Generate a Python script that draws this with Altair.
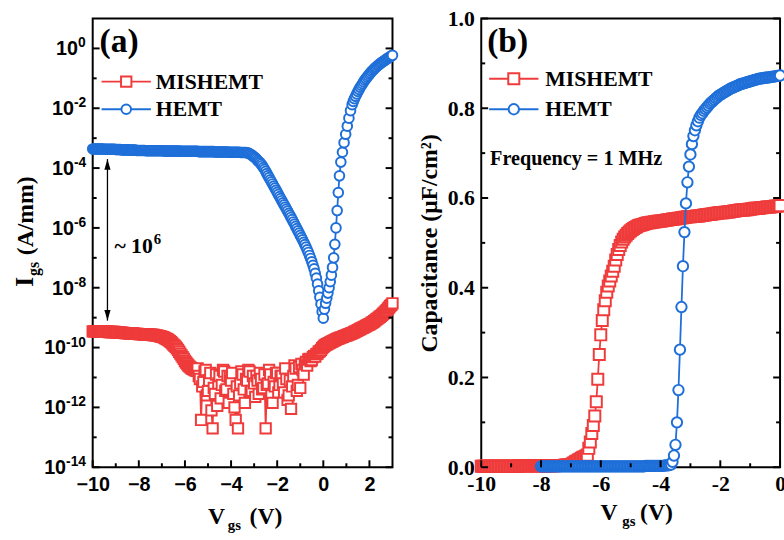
import altair as alt
import pandas as pd

# ---------------- Panel (a): gate leakage current (log10 of A/mm) ----------------
vgs_sweep_a = [
    -10.0, -9.95, -9.9, -9.85, -9.8, -9.75, -9.7, -9.65, -9.6, -9.55,
    -9.5, -9.45, -9.4, -9.35, -9.3, -9.25, -9.2, -9.15, -9.1, -9.05,
    -9.0, -8.95, -8.9, -8.85, -8.8, -8.75, -8.7, -8.65, -8.6, -8.55,
    -8.5, -8.45, -8.4, -8.35, -8.3, -8.25, -8.2, -8.15, -8.1, -8.05,
    -8.0, -7.95, -7.9, -7.85, -7.8, -7.75, -7.7, -7.65, -7.6, -7.55,
    -7.5, -7.45, -7.4, -7.35, -7.3, -7.25, -7.2, -7.15, -7.1, -7.05,
    -7.0, -6.95, -6.9, -6.85, -6.8, -6.75, -6.7, -6.65, -6.6, -6.55,
    -6.5, -6.45, -6.4, -6.35, -6.3, -6.25, -6.2, -6.15, -6.1, -6.05,
    -6.0, -5.95, -5.9, -5.85, -5.8, -5.75, -5.7, -5.65, -5.6, -5.55,
    -5.5, -5.45, -5.4, -5.35, -5.3, -5.25, -5.2, -5.15, -5.1, -5.05,
    -5.0, -4.95, -4.9, -4.85, -4.8, -4.75, -4.7, -4.65, -4.6, -4.55,
    -4.5, -4.45, -4.4, -4.35, -4.3, -4.25, -4.2, -4.15, -4.1, -4.05,
    -4.0, -3.95, -3.9, -3.85, -3.8, -3.75, -3.7, -3.65, -3.6, -3.55,
    -3.5, -3.45, -3.4, -3.35, -3.3, -3.25, -3.2, -3.15, -3.1, -3.05,
    -3.0, -2.95, -2.9, -2.85, -2.8, -2.75, -2.7, -2.65, -2.6, -2.55,
    -2.5, -2.45, -2.4, -2.35, -2.3, -2.25, -2.2, -2.15, -2.1, -2.05,
    -2.0, -1.95, -1.9, -1.85, -1.8, -1.75, -1.7, -1.65, -1.6, -1.55,
    -1.5, -1.45, -1.4, -1.35, -1.3, -1.25, -1.2, -1.15, -1.1, -1.05,
    -1.0, -0.95, -0.9, -0.85, -0.8, -0.75, -0.7, -0.65, -0.6, -0.55,
    -0.5, -0.45, -0.4, -0.35, -0.3, -0.25, -0.2, -0.15, -0.1, -0.05,
    0.0, 0.05, 0.1, 0.15, 0.2, 0.25, 0.3, 0.35, 0.4, 0.45,
    0.5, 0.55, 0.6, 0.65, 0.7, 0.75, 0.8, 0.85, 0.9, 0.95,
    1.0, 1.05, 1.1, 1.15, 1.2, 1.25, 1.3, 1.35, 1.4, 1.45,
    1.5, 1.55, 1.6, 1.65, 1.7, 1.75, 1.8, 1.85, 1.9, 1.95,
    2.0, 2.05, 2.1, 2.15, 2.2, 2.25, 2.3, 2.35, 2.4, 2.45,
    2.5, 2.55, 2.6, 2.65, 2.7, 2.75, 2.8, 2.85, 2.9, 2.95,
    3.0,
]
log_igs_mishemt_a = [
    -9.46, -9.46, -9.46, -9.46, -9.46, -9.46, -9.47, -9.47, -9.47, -9.47,
    -9.47, -9.47, -9.47, -9.47, -9.48, -9.48, -9.48, -9.48, -9.48, -9.48,
    -9.49, -9.49, -9.49, -9.50, -9.50, -9.50, -9.51, -9.51, -9.52, -9.52,
    -9.52, -9.52, -9.53, -9.53, -9.53, -9.53, -9.54, -9.54, -9.54, -9.54,
    -9.55, -9.55, -9.55, -9.55, -9.56, -9.56, -9.56, -9.56, -9.57, -9.57,
    -9.57, -9.57, -9.58, -9.58, -9.59, -9.59, -9.60, -9.61, -9.62, -9.63,
    -9.64, -9.65, -9.67, -9.69, -9.71, -9.73, -9.76, -9.79, -9.82, -9.86,
    -9.90, -9.94, -9.98, -10.03, -10.08, -10.14, -10.20, -10.26, -10.32, -10.38,
    -10.45, -10.50, -10.55, -10.60, -10.64, -10.67, -10.70, -10.72, -10.74, -10.76,
    -10.78, -10.70, -10.95, -11.05, -12.42, -11.30, -11.15, -10.80, -10.75, -11.60,
    -11.45, -11.10, -10.85, -12.10, -12.70, -11.35, -11.55, -10.90, -11.95, -11.20,
    -10.95, -11.70, -11.25, -10.75, -10.80, -11.45, -11.40, -10.95, -11.85, -11.00,
    -11.10, -10.85, -11.55, -12.00, -12.42, -11.30, -12.70, -11.60, -11.20, -10.80,
    -10.90, -11.40, -11.85, -11.05, -11.10, -10.75, -10.80, -11.50, -11.45, -10.95,
    -11.20, -11.65, -10.95, -11.10, -11.55, -10.85, -11.05, -11.40, -11.35, -10.90,
    -12.70, -11.25, -11.20, -10.75, -10.90, -11.60, -11.85, -11.15, -11.30, -10.85,
    -10.85, -11.50, -11.25, -10.95, -10.95, -11.20, -11.50, -10.70, -11.05, -11.75,
    -11.60, -11.10, -12.05, -11.30, -10.95, -10.60, -10.70, -11.45, -11.25, -10.65,
    -11.35, -10.55, -10.75, -10.90, -10.55, -10.48, -10.60, -10.40, -10.38, -10.45,
    -10.42, -10.32, -10.28, -10.30, -10.22, -10.20, -10.14, -10.12, -10.08, -10.02,
    -9.98, -9.94, -9.91, -9.89, -9.87, -9.85, -9.83, -9.81, -9.79, -9.77,
    -9.75, -9.73, -9.71, -9.70, -9.68, -9.67, -9.65, -9.64, -9.62, -9.61,
    -9.59, -9.58, -9.56, -9.55, -9.53, -9.52, -9.50, -9.48, -9.46, -9.44,
    -9.42, -9.40, -9.38, -9.36, -9.34, -9.32, -9.30, -9.28, -9.26, -9.24,
    -9.22, -9.20, -9.17, -9.15, -9.12, -9.09, -9.06, -9.03, -9.00, -8.97,
    -8.94, -8.91, -8.87, -8.83, -8.79, -8.75, -8.70, -8.66, -8.61, -8.57,
    -8.52,
]
vgs_hemt_rise_a = [
    0.00, 0.05, 0.10, 0.15, 0.20, 0.25, 0.30, 0.35, 0.40, 0.45, 0.50, 0.55, 0.60, 0.65, 0.70,
    0.76, 0.83, 0.90, 0.97, 1.04, 1.11, 1.18, 1.25,
    1.30, 1.35, 1.40, 1.45, 1.50, 1.55, 1.60, 1.65, 1.70, 1.75,
    1.80, 1.85, 1.90, 1.95, 2.00, 2.05, 2.10, 2.15, 2.20, 2.25,
    2.30, 2.35, 2.40, 2.45, 2.50, 2.55, 2.60, 2.65, 2.70, 2.75,
    2.80, 2.85, 2.90, 2.95, 3.00,
]
vgs_hemt_a = vgs_sweep_a[:200] + vgs_hemt_rise_a
log_igs_hemt_a = [
    -3.36, -3.36, -3.36, -3.36, -3.36, -3.36, -3.36, -3.36, -3.36, -3.36,
    -3.37, -3.37, -3.37, -3.37, -3.37, -3.37, -3.37, -3.37, -3.37, -3.37,
    -3.38, -3.38, -3.38, -3.38, -3.38, -3.39, -3.39, -3.39, -3.39, -3.39,
    -3.39, -3.39, -3.40, -3.40, -3.40, -3.40, -3.40, -3.40, -3.41, -3.41,
    -3.41, -3.41, -3.41, -3.41, -3.41, -3.41, -3.42, -3.42, -3.42, -3.42,
    -3.42, -3.42, -3.42, -3.42, -3.42, -3.42, -3.42, -3.42, -3.42, -3.42,
    -3.42, -3.42, -3.43, -3.43, -3.43, -3.43, -3.43, -3.43, -3.43, -3.43,
    -3.43, -3.43, -3.43, -3.43, -3.43, -3.43, -3.44, -3.44, -3.44, -3.44,
    -3.44, -3.44, -3.44, -3.44, -3.44, -3.44, -3.44, -3.44, -3.44, -3.44,
    -3.44, -3.44, -3.45, -3.45, -3.45, -3.45, -3.45, -3.45, -3.45, -3.45,
    -3.45, -3.45, -3.45, -3.45, -3.45, -3.45, -3.46, -3.46, -3.46, -3.46,
    -3.46, -3.46, -3.46, -3.46, -3.46, -3.46, -3.46, -3.46, -3.47, -3.47,
    -3.47, -3.47, -3.47, -3.47, -3.47, -3.47, -3.47, -3.47, -3.48, -3.48,
    -3.48, -3.48, -3.48, -3.48, -3.49, -3.50, -3.52, -3.54, -3.57, -3.60,
    -3.63, -3.66, -3.70, -3.74, -3.78, -3.82, -3.87, -3.92, -3.98, -4.04,
    -4.11, -4.18, -4.25, -4.32, -4.39, -4.46, -4.53, -4.60, -4.67, -4.74,
    -4.81, -4.88, -4.95, -5.02, -5.09, -5.16, -5.23, -5.30, -5.37, -5.44,
    -5.51, -5.58, -5.65, -5.72, -5.80, -5.87, -5.95, -6.02, -6.10, -6.17,
    -6.25, -6.32, -6.40, -6.48, -6.56, -6.64, -6.73, -6.82, -6.92, -7.02,
    -7.13, -7.25, -7.37, -7.52, -7.68, -7.88, -8.10, -8.32, -8.55, -8.80,
    -9.02, -8.72, -8.52, -8.35, -8.18, -8.00, -7.80, -7.58, -7.32, -7.00,
    -6.55, -6.00, -5.42, -4.82, -4.26,
    -3.80, -3.47, -3.15, -2.87, -2.60, -2.33, -2.08, -1.88,
    -1.77, -1.68, -1.60, -1.52, -1.44, -1.37, -1.30, -1.24, -1.18, -1.12,
    -1.06, -1.01, -0.96, -0.91, -0.86, -0.82, -0.77, -0.73, -0.69, -0.65,
    -0.62, -0.58, -0.55, -0.52, -0.49, -0.46, -0.43, -0.41, -0.38, -0.35,
    -0.33, -0.30, -0.28, -0.25, -0.23,
]

# ---------------- Panel (b): C-V at 1 MHz (uF/cm2) ----------------
vgs_sweep_b = [
    -10.0, -9.95, -9.9, -9.85, -9.8, -9.75, -9.7, -9.65, -9.6, -9.55,
    -9.5, -9.45, -9.4, -9.35, -9.3, -9.25, -9.2, -9.15, -9.1, -9.05,
    -9.0, -8.95, -8.9, -8.85, -8.8, -8.75, -8.7, -8.65, -8.6, -8.55,
    -8.5, -8.45, -8.4, -8.35, -8.3, -8.25, -8.2, -8.15, -8.1, -8.05,
    -8.0, -7.95, -7.9, -7.85, -7.8, -7.75, -7.7, -7.65, -7.6, -7.55,
    -7.5, -7.45, -7.4, -7.35, -7.3, -7.25, -7.2, -7.15, -7.1, -7.05,
    -7.0, -6.95, -6.9, -6.85, -6.8, -6.75, -6.7, -6.65, -6.6, -6.55,
    -6.5, -6.45, -6.4, -6.35, -6.3, -6.25, -6.2, -6.15, -6.1, -6.05,
    -6.0, -5.95, -5.9, -5.85, -5.8, -5.75, -5.7, -5.65, -5.6, -5.55,
    -5.5, -5.45, -5.4, -5.35, -5.3, -5.25, -5.2, -5.15, -5.1, -5.05,
    -5.0, -4.95, -4.9, -4.85, -4.8, -4.75, -4.7, -4.65, -4.6, -4.55,
    -4.5, -4.45, -4.4, -4.35, -4.3, -4.25, -4.2, -4.15, -4.1, -4.05,
    -4.0, -3.95, -3.9, -3.85, -3.8, -3.75, -3.7, -3.65, -3.6, -3.55,
    -3.5, -3.45, -3.4, -3.35, -3.3, -3.25, -3.2, -3.15, -3.1, -3.05,
    -3.0, -2.95, -2.9, -2.85, -2.8, -2.75, -2.7, -2.65, -2.6, -2.55,
    -2.5, -2.45, -2.4, -2.35, -2.3, -2.25, -2.2, -2.15, -2.1, -2.05,
    -2.0, -1.95, -1.9, -1.85, -1.8, -1.75, -1.7, -1.65, -1.6, -1.55,
    -1.5, -1.45, -1.4, -1.35, -1.3, -1.25, -1.2, -1.15, -1.1, -1.05,
    -1.0, -0.95, -0.9, -0.85, -0.8, -0.75, -0.7, -0.65, -0.6, -0.55,
    -0.5, -0.45, -0.4, -0.35, -0.3, -0.25, -0.2, -0.15, -0.1, -0.05,
    0.0,
]
cap_mishemt_b = [
    0.002, 0.002, 0.002, 0.002, 0.002, 0.002, 0.002, 0.002, 0.002, 0.002,
    0.002, 0.002, 0.002, 0.002, 0.002, 0.002, 0.002, 0.002, 0.002, 0.002,
    0.002, 0.002, 0.002, 0.002, 0.002, 0.003, 0.003, 0.003, 0.003, 0.003,
    0.003, 0.003, 0.003, 0.003, 0.003, 0.003, 0.003, 0.003, 0.003, 0.003,
    0.003, 0.003, 0.003, 0.003, 0.003, 0.003, 0.003, 0.003, 0.003, 0.003,
    0.004, 0.004, 0.004, 0.004, 0.004, 0.004, 0.005, 0.005, 0.005, 0.005,
    0.006, 0.008, 0.010, 0.012, 0.014, 0.016, 0.018, 0.020, 0.022, 0.023,
    0.025, 0.027, 0.042, 0.056, 0.075, 0.093, 0.114, 0.146, 0.196, 0.251,
    0.295, 0.327, 0.351, 0.371, 0.390, 0.404, 0.415, 0.426, 0.437, 0.448,
    0.462, 0.474, 0.485, 0.494, 0.502, 0.508, 0.513, 0.517, 0.521, 0.524,
    0.527, 0.530, 0.532, 0.534, 0.536, 0.538, 0.539, 0.540, 0.541, 0.542,
    0.543, 0.544, 0.545, 0.545, 0.546, 0.546, 0.547, 0.547, 0.548, 0.548,
    0.549, 0.549, 0.550, 0.550, 0.551, 0.551, 0.552, 0.552, 0.553, 0.553,
    0.554, 0.554, 0.555, 0.555, 0.556, 0.556, 0.557, 0.557, 0.558, 0.558,
    0.558, 0.559, 0.559, 0.559, 0.560, 0.560, 0.560, 0.561, 0.561, 0.562,
    0.562, 0.563, 0.563, 0.564, 0.564, 0.565, 0.565, 0.566, 0.566, 0.567,
    0.567, 0.567, 0.567, 0.568, 0.568, 0.569, 0.569, 0.570, 0.570, 0.571,
    0.571, 0.572, 0.572, 0.573, 0.573, 0.573, 0.573, 0.574, 0.574, 0.575,
    0.575, 0.576, 0.576, 0.577, 0.577, 0.577, 0.577, 0.578, 0.578, 0.579,
    0.579, 0.580, 0.580, 0.580, 0.580, 0.581, 0.581, 0.582, 0.582, 0.582,
    0.583,
]
vgs_hemt_b = vgs_sweep_b[40:]
cap_hemt_b = [
    0.002, 0.002, 0.002, 0.002, 0.002, 0.002, 0.002, 0.002, 0.002, 0.002,
    0.002, 0.002, 0.002, 0.002, 0.002, 0.002, 0.002, 0.002, 0.002, 0.002,
    0.002, 0.002, 0.002, 0.002, 0.002, 0.002, 0.002, 0.002, 0.002, 0.002,
    0.002, 0.002, 0.002, 0.002, 0.002, 0.002, 0.002, 0.002, 0.002, 0.002,
    0.002, 0.002, 0.002, 0.002, 0.002, 0.002, 0.002, 0.002, 0.002, 0.002,
    0.002, 0.002, 0.002, 0.002, 0.002, 0.002, 0.002, 0.002, 0.002, 0.002,
    0.002, 0.002, 0.002, 0.002, 0.002, 0.002, 0.002, 0.002, 0.002, 0.002,
    0.003, 0.003, 0.003, 0.003, 0.003, 0.003, 0.003, 0.003, 0.003, 0.003,
    0.003, 0.003, 0.003, 0.004, 0.004, 0.004, 0.005, 0.006, 0.012, 0.026,
    0.050, 0.100, 0.172, 0.262, 0.357, 0.448, 0.524, 0.588, 0.635, 0.670,
    0.697, 0.720, 0.738, 0.751, 0.762, 0.771, 0.779, 0.785, 0.789, 0.794,
    0.798, 0.802, 0.806, 0.810, 0.813, 0.816, 0.819, 0.822, 0.825, 0.828,
    0.830, 0.832, 0.834, 0.836, 0.838, 0.840, 0.842, 0.844, 0.845, 0.847,
    0.848, 0.850, 0.851, 0.853, 0.854, 0.855, 0.856, 0.857, 0.858, 0.859,
    0.860, 0.861, 0.862, 0.863, 0.864, 0.865, 0.866, 0.866, 0.867, 0.867,
    0.868, 0.868, 0.869, 0.869, 0.870, 0.870, 0.871, 0.871, 0.872, 0.872,
    0.873,
]

# ---------------- ticks / annotations ----------------
xa_major = [-10, -8, -6, -4, -2, 0, 2]
xa_minor = [-9, -7, -5, -3, -1, 1]
ya_major_exp = [-14, -12, -10, -8, -6, -4, -2, 0]
ya_minor_exp = [-13, -11, -9, -7, -5, -3, -1]
xb_major = [-10, -8, -6, -4, -2, 0]
xb_minor = [-9, -7, -5, -3, -1]
yb_major = [0.0, 0.2, 0.4, 0.6, 0.8, 1.0]
yb_minor = [0.1, 0.3, 0.5, 0.7, 0.9]
arrow_vgs = -9.36
arrow_top_exp = -3.70
arrow_bottom_exp = -9.10

RED = "#EF3B3B"
BLUE = "#1F6FD9"
SERIF = "Liberation Serif"
SANS = "Liberation Sans"
W_A, W_B, H = 304, 303, 455

# ---------------- data frames ----------------
df_mis_a = pd.DataFrame({"V": vgs_sweep_a, "I": [10 ** e for e in log_igs_mishemt_a]})
df_hemt_a = pd.DataFrame({"V": vgs_hemt_a, "I": [10 ** e for e in log_igs_hemt_a]})
df_mis_b = pd.DataFrame({"V": vgs_sweep_b, "C": cap_mishemt_b})
df_hemt_b = pd.DataFrame({"V": vgs_hemt_b, "C": cap_hemt_b})
one = pd.DataFrame({"k": [0]})

xa_scale = alt.Scale(domain=[-10, 3], nice=False, zero=False)
ya_scale = alt.Scale(type="log", domain=[1e-14, 10], nice=False)
xb_scale = alt.Scale(domain=[-10, 0], nice=False, zero=False)
yb_scale = alt.Scale(domain=[0, 1], nice=False, zero=False)

axis_xa = alt.Axis(values=xa_major, title=None, labelFont=SANS, labelFontWeight="bold",
                   labelFontSize=20, labelColor="black", labelPadding=8, ticks=False,
                   domain=False, grid=False, labelFlush=False)
axis_ya = alt.Axis(values=[10.0 ** e for e in ya_major_exp], title=None, labels=False,
                   ticks=False, domain=False, grid=False)
axis_xb = alt.Axis(values=xb_major, labelExpr="toString(datum.value)", title=None, labelFont=SERIF,
                   labelFontWeight="bold", labelFontSize=22, labelColor="black", labelPadding=7,
                   ticks=False, domain=False, grid=False, labelFlush=False)
axis_yb = alt.Axis(values=yb_major, format=".1f", title="Capacitance (μF/cm²)", titleFont=SERIF,
                   titleFontWeight="bold", titleFontSize=24, titleColor="black", titlePadding=6,
                   labelFont=SERIF, labelFontWeight="bold", labelFontSize=22, labelColor="black",
                   labelPadding=7, ticks=False, domain=False, grid=False, labelFlush=False)

PANELS = {
    "a": dict(xs=xa_scale, ys=ya_scale, xaxis=axis_xa, yaxis=axis_ya, y="I", w=W_A),
    "b": dict(xs=xb_scale, ys=yb_scale, xaxis=axis_xb, yaxis=axis_yb, y="C", w=W_B),
}


def X(p, field="V"):
    return alt.X(f"{field}:Q", scale=PANELS[p]["xs"], axis=PANELS[p]["xaxis"])


def Y(p, field=None):
    field = field or PANELS[p]["y"]
    return alt.Y(f"{field}:Q", scale=PANELS[p]["ys"], axis=PANELS[p]["yaxis"])


def series(p, df, color, shape, size):
    enc = dict(x=X(p), y=Y(p))
    line = alt.Chart(df).mark_line(color=color, strokeWidth=1.8).encode(**enc)
    pts = alt.Chart(df).mark_point(shape=shape, size=size, filled=True, fill="white", stroke=color,
                                   strokeWidth=2, opacity=1, fillOpacity=1).encode(**enc)
    return [line, pts]


def ticks(p, values, side, length):
    w = PANELS[p]["w"]
    yf = PANELS[p]["y"]
    if side == "bottom":
        df = pd.DataFrame({"V": values})
        return alt.Chart(df).mark_rule(color="black", strokeWidth=2).encode(
            x=X(p), y=alt.value(H), y2=alt.value(H - length))
    df = pd.DataFrame({yf: values})
    x0, x1 = (0, length) if side == "left" else (w, w - length)
    return alt.Chart(df).mark_rule(color="black", strokeWidth=2).encode(
        y=Y(p), x=alt.value(x0), x2=alt.value(x1))


def text(t, x, y, size, font=SERIF, angle=None):
    kw = dict(text=t, font=font, fontSize=size, fontWeight="bold", color="black",
              align="left", baseline="alphabetic")
    if angle is not None:
        kw["angle"] = angle
    return alt.Chart(one).mark_text(**kw).encode(x=alt.value(x), y=alt.value(y))


def legend_item(x0, x1, y, color, shape, size, label, tx, ty):
    seg = alt.Chart(one).mark_rule(color=color, strokeWidth=2).encode(
        x=alt.value(x0), x2=alt.value(x1), y=alt.value(y))
    sym = alt.Chart(one).mark_point(shape=shape, size=size, filled=True, fill="white", stroke=color,
                                    strokeWidth=2, opacity=1, fillOpacity=1).encode(
        x=alt.value((x0 + x1) / 2), y=alt.value(y))
    return [seg, sym, text(label, tx, ty, 22)]


def power_labels(exps, exp_width):
    """Tick labels 10^n for the log axis: '10' plus a raised exponent."""
    df = pd.DataFrame({"I": [10.0 ** e for e in exps], "exp": [str(e) for e in exps]})
    x_join = -7 - exp_width
    base = alt.Chart(df).mark_text(text="10", font=SANS, fontSize=20, fontWeight="bold",
                                   color="black", align="right", baseline="alphabetic",
                                   dy=7).encode(y=Y("a"), x=alt.value(x_join))
    sup = alt.Chart(df).mark_text(font=SANS, fontSize=14, fontWeight="bold", color="black",
                                  align="left", baseline="alphabetic", dy=-1).encode(
        y=Y("a"), x=alt.value(x_join), text="exp:N")
    return [base, sup]


# ---------------- panel (a) ----------------
arrow_df = pd.DataFrame({"V": [arrow_vgs], "I": [10 ** arrow_top_exp], "I2": [10 ** arrow_bottom_exp]})
shaft = alt.Chart(arrow_df).mark_rule(color="black", strokeWidth=1.3).encode(
    x=X("a"), y=Y("a"), y2="I2:Q")
head_up = alt.Chart(arrow_df).mark_point(shape="M0,-1L0.6,1L-0.6,1Z", size=110, filled=True,
                                         color="black", opacity=1, yOffset=5.5).encode(
    x=X("a"), y=Y("a"))
head_down = alt.Chart(arrow_df).mark_point(shape="M0,1L0.6,-1L-0.6,-1Z", size=110, filled=True,
                                           color="black", opacity=1, yOffset=-5.5).encode(
    x=X("a"), y=Y("a", "I2"))

layers_a = (
    series("a", df_mis_a, RED, "square", 110)
    + series("a", df_hemt_a, BLUE, "circle", 95)
    + [
        ticks("a", xa_major, "bottom", 7),
        ticks("a", xa_minor, "bottom", 4),
        ticks("a", [10.0 ** e for e in ya_major_exp], "left", 7),
        ticks("a", [10.0 ** e for e in ya_minor_exp], "left", 4),
        ticks("a", [10.0 ** e for e in ya_major_exp], "right", 7),
        ticks("a", [10.0 ** e for e in ya_minor_exp], "right", 4),
        shaft, head_up, head_down,
        text("(a)", 7, 34, 34),
        text("~ 10", 22, 238, 22),
        text("6", 62, 229, 15),
        # axis titles with subscripts
        text("V", 117, 513, 24),
        text("gs", 137, 519, 15),
        text("(V)", 159, 513, 24),
        text("I", -61, 272, 26, angle=270),
        text("gs", -54, 261, 16, angle=270),
        text("(A/mm)", -61, 240, 24, angle=270),
    ]
    + power_labels([-14, -12, -10], 20)
    + power_labels([-8, -6, -4, -2], 12)
    + power_labels([0], 8)
    + legend_item(9, 59, 64, RED, "square", 110, "MISHEMT", 64, 71)
    + legend_item(9, 59, 92, BLUE, "circle", 95, "HEMT", 64, 99)
)
panel_a = alt.layer(*layers_a).properties(width=W_A, height=H)

# ---------------- panel (b) ----------------
layers_b = (
    series("b", df_mis_b, RED, "square", 125)
    + series("b", df_hemt_b, BLUE, "circle", 110)
    + [
        ticks("b", xb_major, "bottom", 7),
        ticks("b", xb_minor, "bottom", 4),
        ticks("b", yb_major, "left", 7),
        ticks("b", yb_minor, "left", 4),
        ticks("b", yb_major, "right", 7),
        ticks("b", yb_minor, "right", 4),
        text("(b)", 6, 34, 34),
        text("Frequency = 1 MHz", 9, 149, 20.5),
        text("V", 121, 509, 24),
        text("gs", 143, 515, 15),
        text("(V)", 161, 509, 24),
    ]
    + legend_item(8, 58, 61, RED, "square", 125, "MISHEMT", 65, 68)
    + legend_item(8, 58, 92, BLUE, "circle", 110, "HEMT", 65, 99)
)
panel_b = alt.layer(*layers_b).properties(width=W_B, height=H)

chart = (
    alt.hconcat(panel_a, panel_b, spacing=13)
    .properties(padding={"left": 11, "top": 3, "right": -7, "bottom": 0}, background="white")
    .configure_view(stroke="black", strokeWidth=2)
)

chart.save("out.html", embed_options={"renderer": "svg", "actions": False})
